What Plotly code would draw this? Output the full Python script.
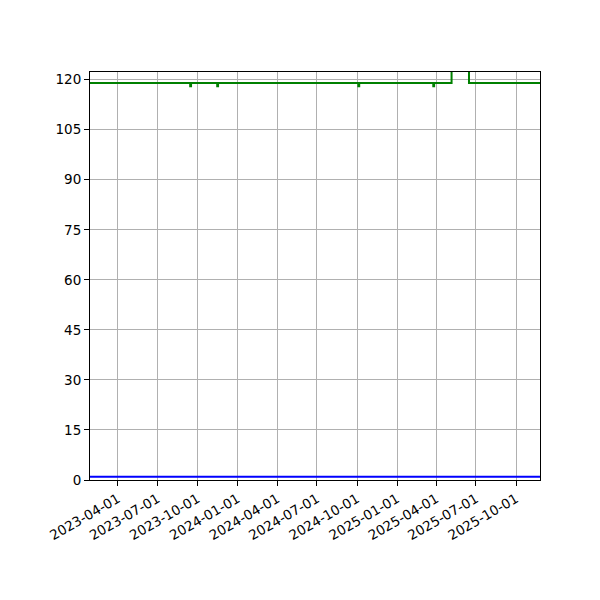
import plotly.graph_objects as go

# green series (step values)
green_dates = ["2023-01-27", "2023-09-14", "2023-09-16", "2023-11-15", "2023-11-17",
               "2024-10-04", "2024-10-06", "2025-03-25", "2025-03-27",
               "2025-05-06", "2025-06-15", "2025-11-25"]
green_vals = [119, 118, 119, 118, 119, 118, 119, 118, 119, 125, 119, 119]

# blue series
blue_dates = ["2023-01-27", "2025-11-25"]
blue_vals = [1, 1]

x_range = ["2023-01-27", "2025-11-25"]
y_range = [0, 122.3]

fig = go.Figure()

fig.add_trace(go.Scatter(x=green_dates, y=green_vals, mode="lines",
                         line=dict(color="green", width=2, shape="hv")))
fig.add_trace(go.Scatter(x=blue_dates, y=blue_vals, mode="lines",
                         line=dict(color="blue", width=2)))

axis_style = dict(
    showline=True, linecolor="black", linewidth=1, mirror=True,
    showgrid=True, gridcolor="#b0b0b0", gridwidth=1,
    ticks="outside", ticklen=5, tickcolor="black",
    zeroline=False,
    tickfont=dict(family="DejaVu Sans", size=13.5, color="black"),
)

fig.update_xaxes(range=x_range, tick0="2023-01-01", dtick="M3",
                 tickformat="%Y-%m-%d", tickangle=-30, **axis_style)
fig.update_yaxes(range=y_range, tick0=0, dtick=15, **axis_style)

# page body adds an 8px offset, so margins are shifted to compensate
fig.update_layout(
    width=600, height=600,
    margin=dict(l=82, r=68, t=64, b=128),
    plot_bgcolor="white", paper_bgcolor="white",
    showlegend=False,
)

fig.write_html("out.html")
